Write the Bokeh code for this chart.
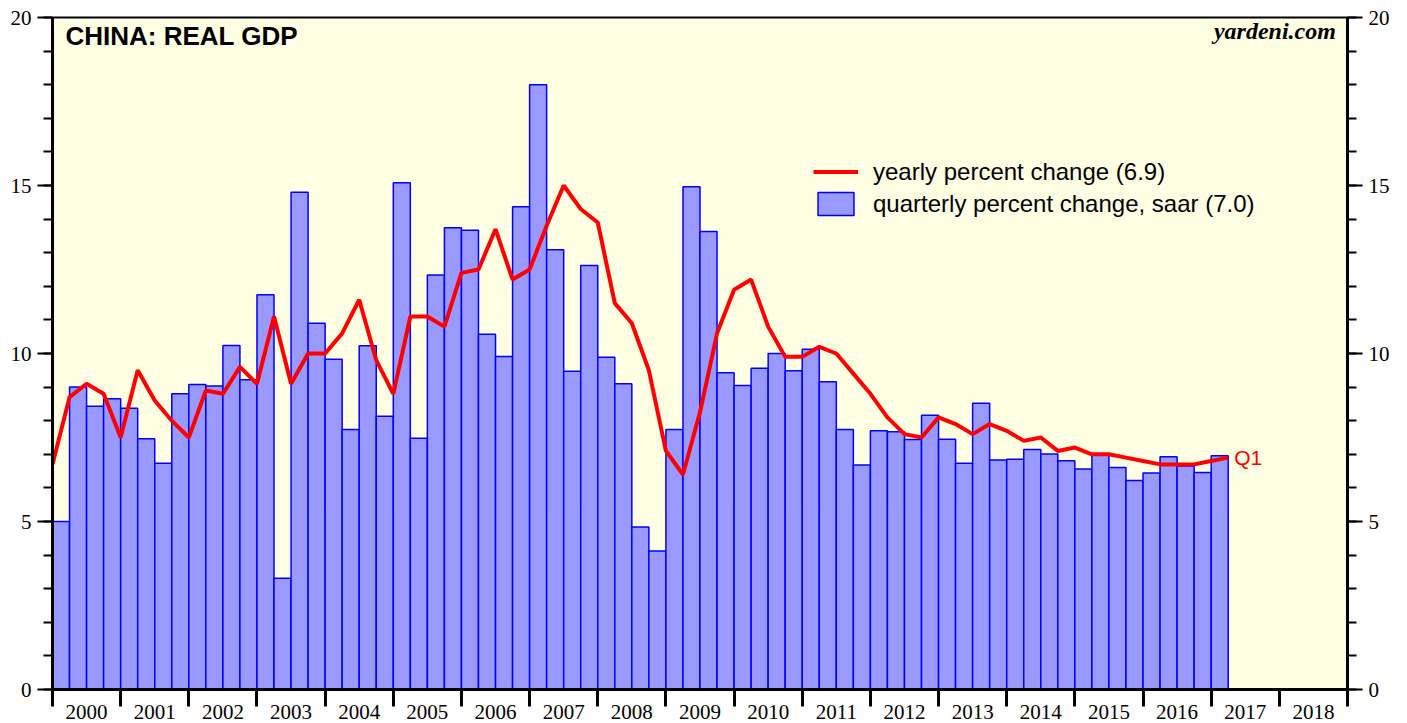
from bokeh.plotting import figure
from bokeh.models import (FixedTicker, LinearAxis, Legend, LegendItem, Label,
                          Range1d, ColumnDataSource)
from bokeh.embed import file_html
from bokeh.resources import INLINE

# ---------------- data ----------------
first_year = 2000
year_labels = [str(y) for y in range(2000, 2019)]

# quarterly percent change, saar: 2000Q1 .. 2017Q1
qoq_saar = [
    5.0, 9.0, 8.43, 8.65,
    8.37, 7.46, 6.73, 8.8,
    9.08, 9.03, 10.24, 9.22,
    11.75, 3.31, 14.8, 10.9,
    9.83, 7.74, 10.23, 8.13,
    15.08, 7.48, 12.34, 13.74,
    13.67, 10.57, 9.91, 14.37,
    18.0, 13.09, 9.47, 12.62,
    9.89, 9.1, 4.84, 4.12,
    7.74, 14.96, 13.63, 9.43,
    9.05, 9.56, 10.0, 9.49,
    10.13, 9.16, 7.74, 6.68,
    7.7, 7.67, 7.44, 8.16,
    7.45, 6.73, 8.52, 6.83,
    6.85, 7.14, 7.01, 6.81,
    6.56, 6.99, 6.61, 6.22,
    6.44, 6.93, 6.65, 6.46,
    6.96,
]

# yearly percent change: 1999Q4 .. 2017Q1 (plotted at quarter end)
yoy = [
    6.7,
    8.7, 9.1, 8.8, 7.5,
    9.5, 8.6, 8.0, 7.5,
    8.9, 8.8, 9.6, 9.1,
    11.1, 9.1, 10.0, 10.0,
    10.6, 11.6, 9.8, 8.8,
    11.1, 11.1, 10.8, 12.4,
    12.5, 13.7, 12.2, 12.5,
    13.8, 15.0, 14.3, 13.9,
    11.5, 10.9, 9.5, 7.1,
    6.4, 8.25, 10.6, 11.9,
    12.2, 10.8, 9.9, 9.9,
    10.2, 10.0, 9.4, 8.8,
    8.1, 7.6, 7.5, 8.1,
    7.9, 7.6, 7.9, 7.7,
    7.4, 7.5, 7.1, 7.2,
    7.0, 7.0, 6.9, 6.8,
    6.7, 6.7, 6.7, 6.8,
    6.9,
]

# ---------------- positions ----------------
bar_x = [first_year + i * 0.25 + 0.125 for i in range(len(qoq_saar))]
line_x = [first_year + i * 0.25 for i in range(len(yoy))]
last_year = first_year + len(year_labels)

bar_src = ColumnDataSource(dict(x=bar_x, top=qoq_saar))
line_src = ColumnDataSource(dict(x=line_x, y=yoy))

p = figure(width=1407, height=723,
           x_range=Range1d(first_year, last_year), y_range=Range1d(0, 20),
           output_backend="svg", toolbar_location=None,
           min_border_left=52, min_border_right=60,
           min_border_top=17, min_border_bottom=34,
           background_fill_color="#FFFFE3", border_fill_color="white",
           outline_line_color="black", outline_line_width=2)
p.grid.visible = False

bars = p.vbar(x="x", top="top", bottom=0, width=0.25, source=bar_src,
              fill_color="#9999FF", line_color="#0000FF", line_width=1.5)
line = p.line(x="x", y="y", source=line_src, line_color="#FF0000", line_width=4)

# ---------------- axes ----------------
xt = FixedTicker(ticks=[first_year + i + 0.5 for i in range(len(year_labels))],
                 minor_ticks=list(range(first_year, last_year + 1)))
xa = p.xaxis[0]
xa.ticker = xt
xa.major_label_overrides = {first_year + i + 0.5: lab for i, lab in enumerate(year_labels)}
xa.major_tick_line_color = None
xa.major_tick_out = 0
xa.major_tick_in = 0
xa.minor_tick_in = 0
xa.minor_tick_out = 17
xa.minor_tick_line_width = 3
xa.minor_tick_line_color = "black"
xa.axis_line_width = 3
xa.axis_line_color = "black"
xa.major_label_standoff = -2
xa.major_label_text_font = "Liberation Serif"
xa.major_label_text_font_size = "21px"
xa.major_label_text_color = "black"

yt = FixedTicker(ticks=[0, 5, 10, 15, 20], minor_ticks=list(range(0, 21)))
ra = LinearAxis()
p.add_layout(ra, "right")
for ax in (p.yaxis[0], ra):
    ax.ticker = yt
    ax.major_tick_in = 0
    ax.major_tick_out = 15
    ax.major_tick_line_width = 2
    ax.major_tick_line_color = "black"
    ax.minor_tick_in = 0
    ax.minor_tick_out = 9
    ax.minor_tick_line_width = 2
    ax.minor_tick_line_color = "black"
    ax.axis_line_width = 3
    ax.axis_line_color = "black"
    ax.major_label_standoff = 6
    ax.major_label_text_font = "Liberation Serif"
    ax.major_label_text_font_size = "21px"
    ax.major_label_text_color = "black"

# ---------------- texts ----------------
p.add_layout(Label(x=first_year + 0.19, y=19.44, text="CHINA: REAL GDP",
                   text_font="Liberation Sans", text_font_style="bold",
                   text_font_size="26px", text_color="black",
                   text_baseline="alphabetic"))
p.add_layout(Label(x=first_year + 18.83, y=19.6, text="yardeni.com",
                   text_font="Liberation Serif", text_font_style="bold italic",
                   text_font_size="24px", text_color="black",
                   text_align="right", text_baseline="alphabetic"))
p.add_layout(Label(x=line_x[-1], y=yoy[-1], x_offset=6, text="Q1",
                   text_font="Liberation Sans", text_font_size="21px",
                   text_color="#FF0000", text_baseline="middle"))

legend = Legend(items=[
    LegendItem(label=f"yearly percent change ({yoy[-1]:.1f})", renderers=[line]),
    LegendItem(label=f"quarterly percent change, saar ({qoq_saar[-1]:.1f})", renderers=[bars]),
], location=(761, 471), padding=0, margin=0, spacing=3,
    glyph_width=45, glyph_height=29, label_standoff=15,
    label_text_font="Liberation Sans", label_text_font_size="24px",
    label_text_color="black",
    background_fill_alpha=0, border_line_color=None)
p.add_layout(legend)

open("out.html", "w").write(file_html(p, INLINE))
